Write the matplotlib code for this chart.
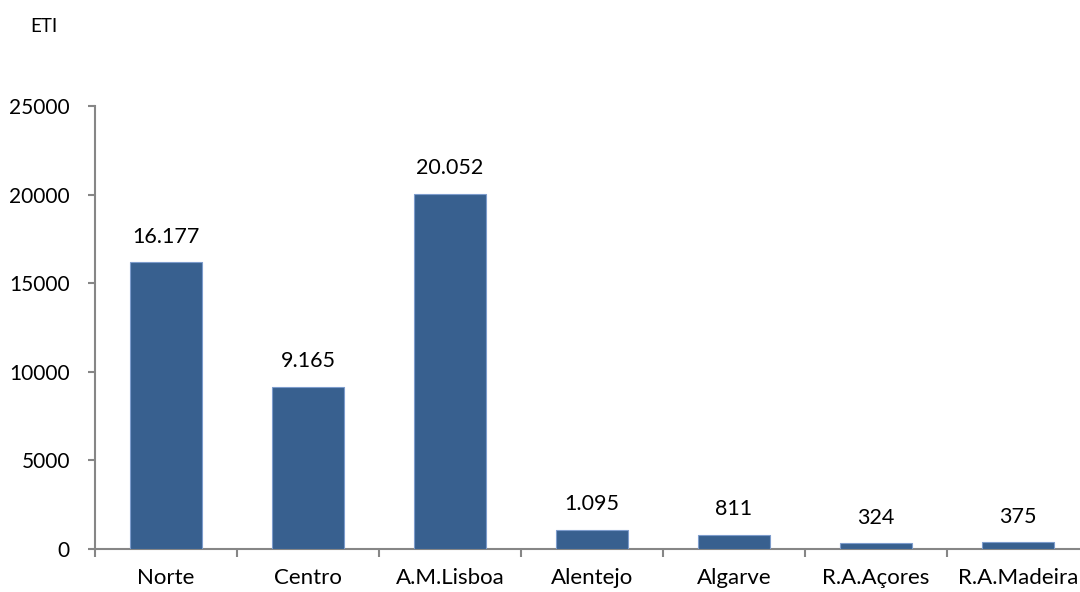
import matplotlib
matplotlib.use("Agg")
import matplotlib.pyplot as plt
import numpy as np

categories = ["Norte", "Centro", "A.M.Lisboa", "Alentejo", "Algarve", "R.A.Açores", "R.A.Madeira"]
values = [16177, 9165, 20052, 1095, 811, 324, 375]
value_labels = ["16.177", "9.165", "20.052", "1.095", "811", "324", "375"]
yticks = [0, 5000, 10000, 15000, 20000, 25000]
ylabel = "ETI"

plt.rcParams['font.family'] = ['Lato', 'DejaVu Sans']

fig = plt.figure(figsize=(10.8, 5.92), dpi=100)
ax = fig.add_axes([95/1080, 43/592, 994/1080, 443/592])

x = np.arange(len(categories))
ax.bar(x, values, width=0.51, color="#38608f", edgecolor="#7d9ccc", linewidth=0.8, zorder=3)

for xi, v, lab in zip(x, values, value_labels):
    ax.annotate(lab, (xi, v), xytext=(0, 11), textcoords="offset points",
                ha="center", va="bottom", fontsize=15.5, color="black")

ax.set_xlim(-0.5, len(categories) - 0.5)
ax.set_ylim(0, 25000)
ax.set_yticks(yticks)
ax.set_yticklabels([str(t) for t in yticks], fontsize=15)
ax.set_xticks(x)
ax.set_xticklabels(categories, fontsize=16)
ax.set_xticks(np.arange(len(categories) + 1) - 0.5, minor=True)

spine_color = "#868686"
for s in ["top", "right"]:
    ax.spines[s].set_visible(False)
for s in ["left", "bottom"]:
    ax.spines[s].set_color(spine_color)
    ax.spines[s].set_linewidth(1.5)

ax.tick_params(axis="y", which="major", length=5, width=1.5, color=spine_color, pad=13)
ax.tick_params(axis="x", which="major", length=0, pad=14)
ax.tick_params(axis="x", which="minor", length=6, width=1.5, color=spine_color, direction="out")

fig.text(30/1080, 1 - 27/592, ylabel, fontsize=13.5, va="center", ha="left")

fig.savefig("out.png", dpi=100)
